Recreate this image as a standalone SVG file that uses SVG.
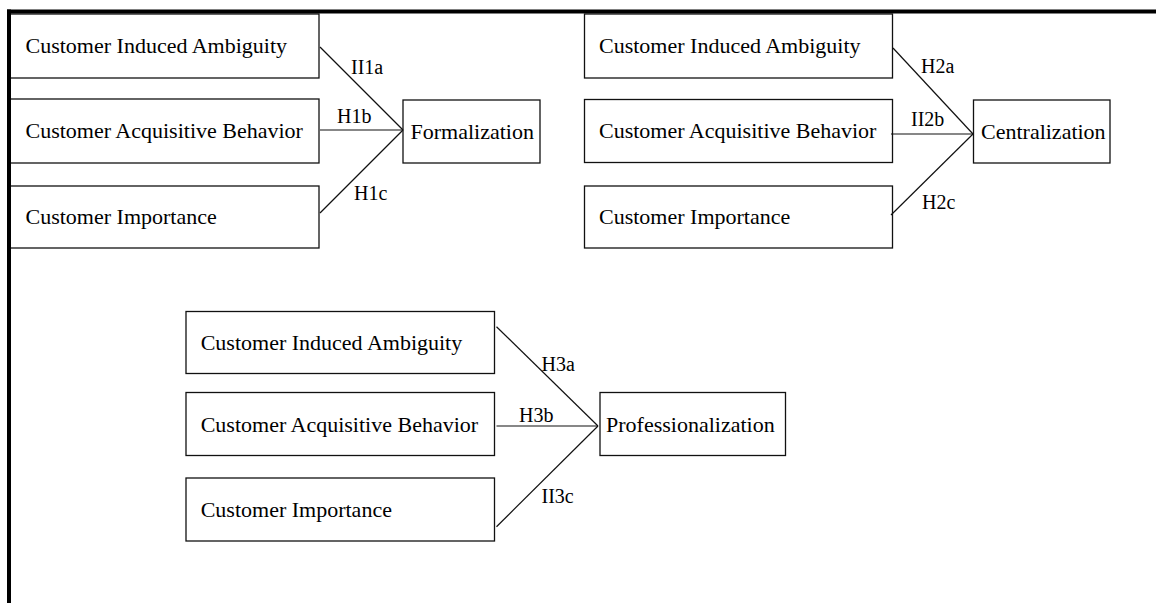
<svg xmlns="http://www.w3.org/2000/svg" width="1156" height="603" viewBox="0 0 1156 603">
<style>
  .box { fill: #fff; stroke: #111; stroke-width: 1.3; }
  .t { font-family: "Liberation Serif", "Times New Roman", serif; font-size: 22px; fill: #000; }
  .lbl { font-family: "Liberation Serif", "Times New Roman", serif; font-size: 20px; fill: #000; }
  .conn line { stroke: #111; stroke-width: 1.2; }
  .frame { stroke: #000; stroke-width: 4; fill: none; }
</style>
<rect width="1156" height="603" fill="#fff"/>

<g id="g1-cia"><rect class="box" x="10" y="14" width="309" height="64"/><text class="t" x="25.5" y="53">Customer Induced Ambiguity</text></g>
<g id="g1-cab"><rect class="box" x="10" y="99" width="309" height="64"/><text class="t" x="25.5" y="138">Customer Acquisitive Behavior</text></g>
<g id="g1-ci"><rect class="box" x="10" y="186" width="309" height="62"/><text class="t" x="25.5" y="224">Customer Importance</text></g>
<g id="formalization"><rect class="box" x="403" y="100" width="137" height="63"/><text class="t" x="410.5" y="138.5">Formalization</text></g>

<g id="g2-cia"><rect class="box" x="584.5" y="14" width="308" height="64"/><text class="t" x="599" y="53">Customer Induced Ambiguity</text></g>
<g id="g2-cab"><rect class="box" x="584.5" y="99.5" width="308" height="63"/><text class="t" x="599" y="138">Customer Acquisitive Behavior</text></g>
<g id="g2-ci"><rect class="box" x="584.5" y="186" width="308" height="62"/><text class="t" x="599" y="224">Customer Importance</text></g>
<g id="centralization"><rect class="box" x="973.5" y="100" width="136.5" height="63"/><text class="t" x="981" y="138.5">Centralization</text></g>

<g id="g3-cia"><rect class="box" x="186" y="311.5" width="308.5" height="62"/><text class="t" x="200.7" y="350">Customer Induced Ambiguity</text></g>
<g id="g3-cab"><rect class="box" x="186" y="392.5" width="308.5" height="63"/><text class="t" x="200.7" y="431.5">Customer Acquisitive Behavior</text></g>
<g id="g3-ci"><rect class="box" x="186" y="478" width="308.5" height="63"/><text class="t" x="200.7" y="517">Customer Importance</text></g>
<g id="professionalization"><rect class="box" x="600" y="392.5" width="185.5" height="63"/><text class="t" x="606" y="431.5">Professionalization</text></g>

<g id="connectors" class="conn">
  <line x1="320" y1="47" x2="403" y2="130"/>
  <line x1="320" y1="130" x2="403" y2="130"/>
  <line x1="320" y1="213" x2="403" y2="130"/>
  <line x1="893" y1="48" x2="973" y2="134"/>
  <line x1="891" y1="134" x2="973" y2="134"/>
  <line x1="891" y1="215" x2="973" y2="134"/>
  <line x1="496.5" y1="326.7" x2="598" y2="426"/>
  <line x1="496.5" y1="426" x2="598" y2="426"/>
  <line x1="496.5" y1="526.7" x2="598" y2="426"/>
</g>

<g id="labels">
  <text class="lbl" x="351" y="74">II1a</text>
  <text class="lbl" x="337" y="122.5">H1b</text>
  <text class="lbl" x="354" y="200">H1c</text>
  <text class="lbl" x="921" y="73">H2a</text>
  <text class="lbl" x="911" y="126">II2b</text>
  <text class="lbl" x="922" y="209">H2c</text>
  <text class="lbl" x="541.5" y="371">H3a</text>
  <text class="lbl" x="519" y="422">H3b</text>
  <text class="lbl" x="541.5" y="503">II3c</text>
</g>

<g id="frame">
  <line class="frame" x1="7" y1="11.5" x2="1156" y2="11.5"/>
  <line class="frame" x1="9" y1="9.5" x2="9" y2="603"/>
</g>
</svg>
